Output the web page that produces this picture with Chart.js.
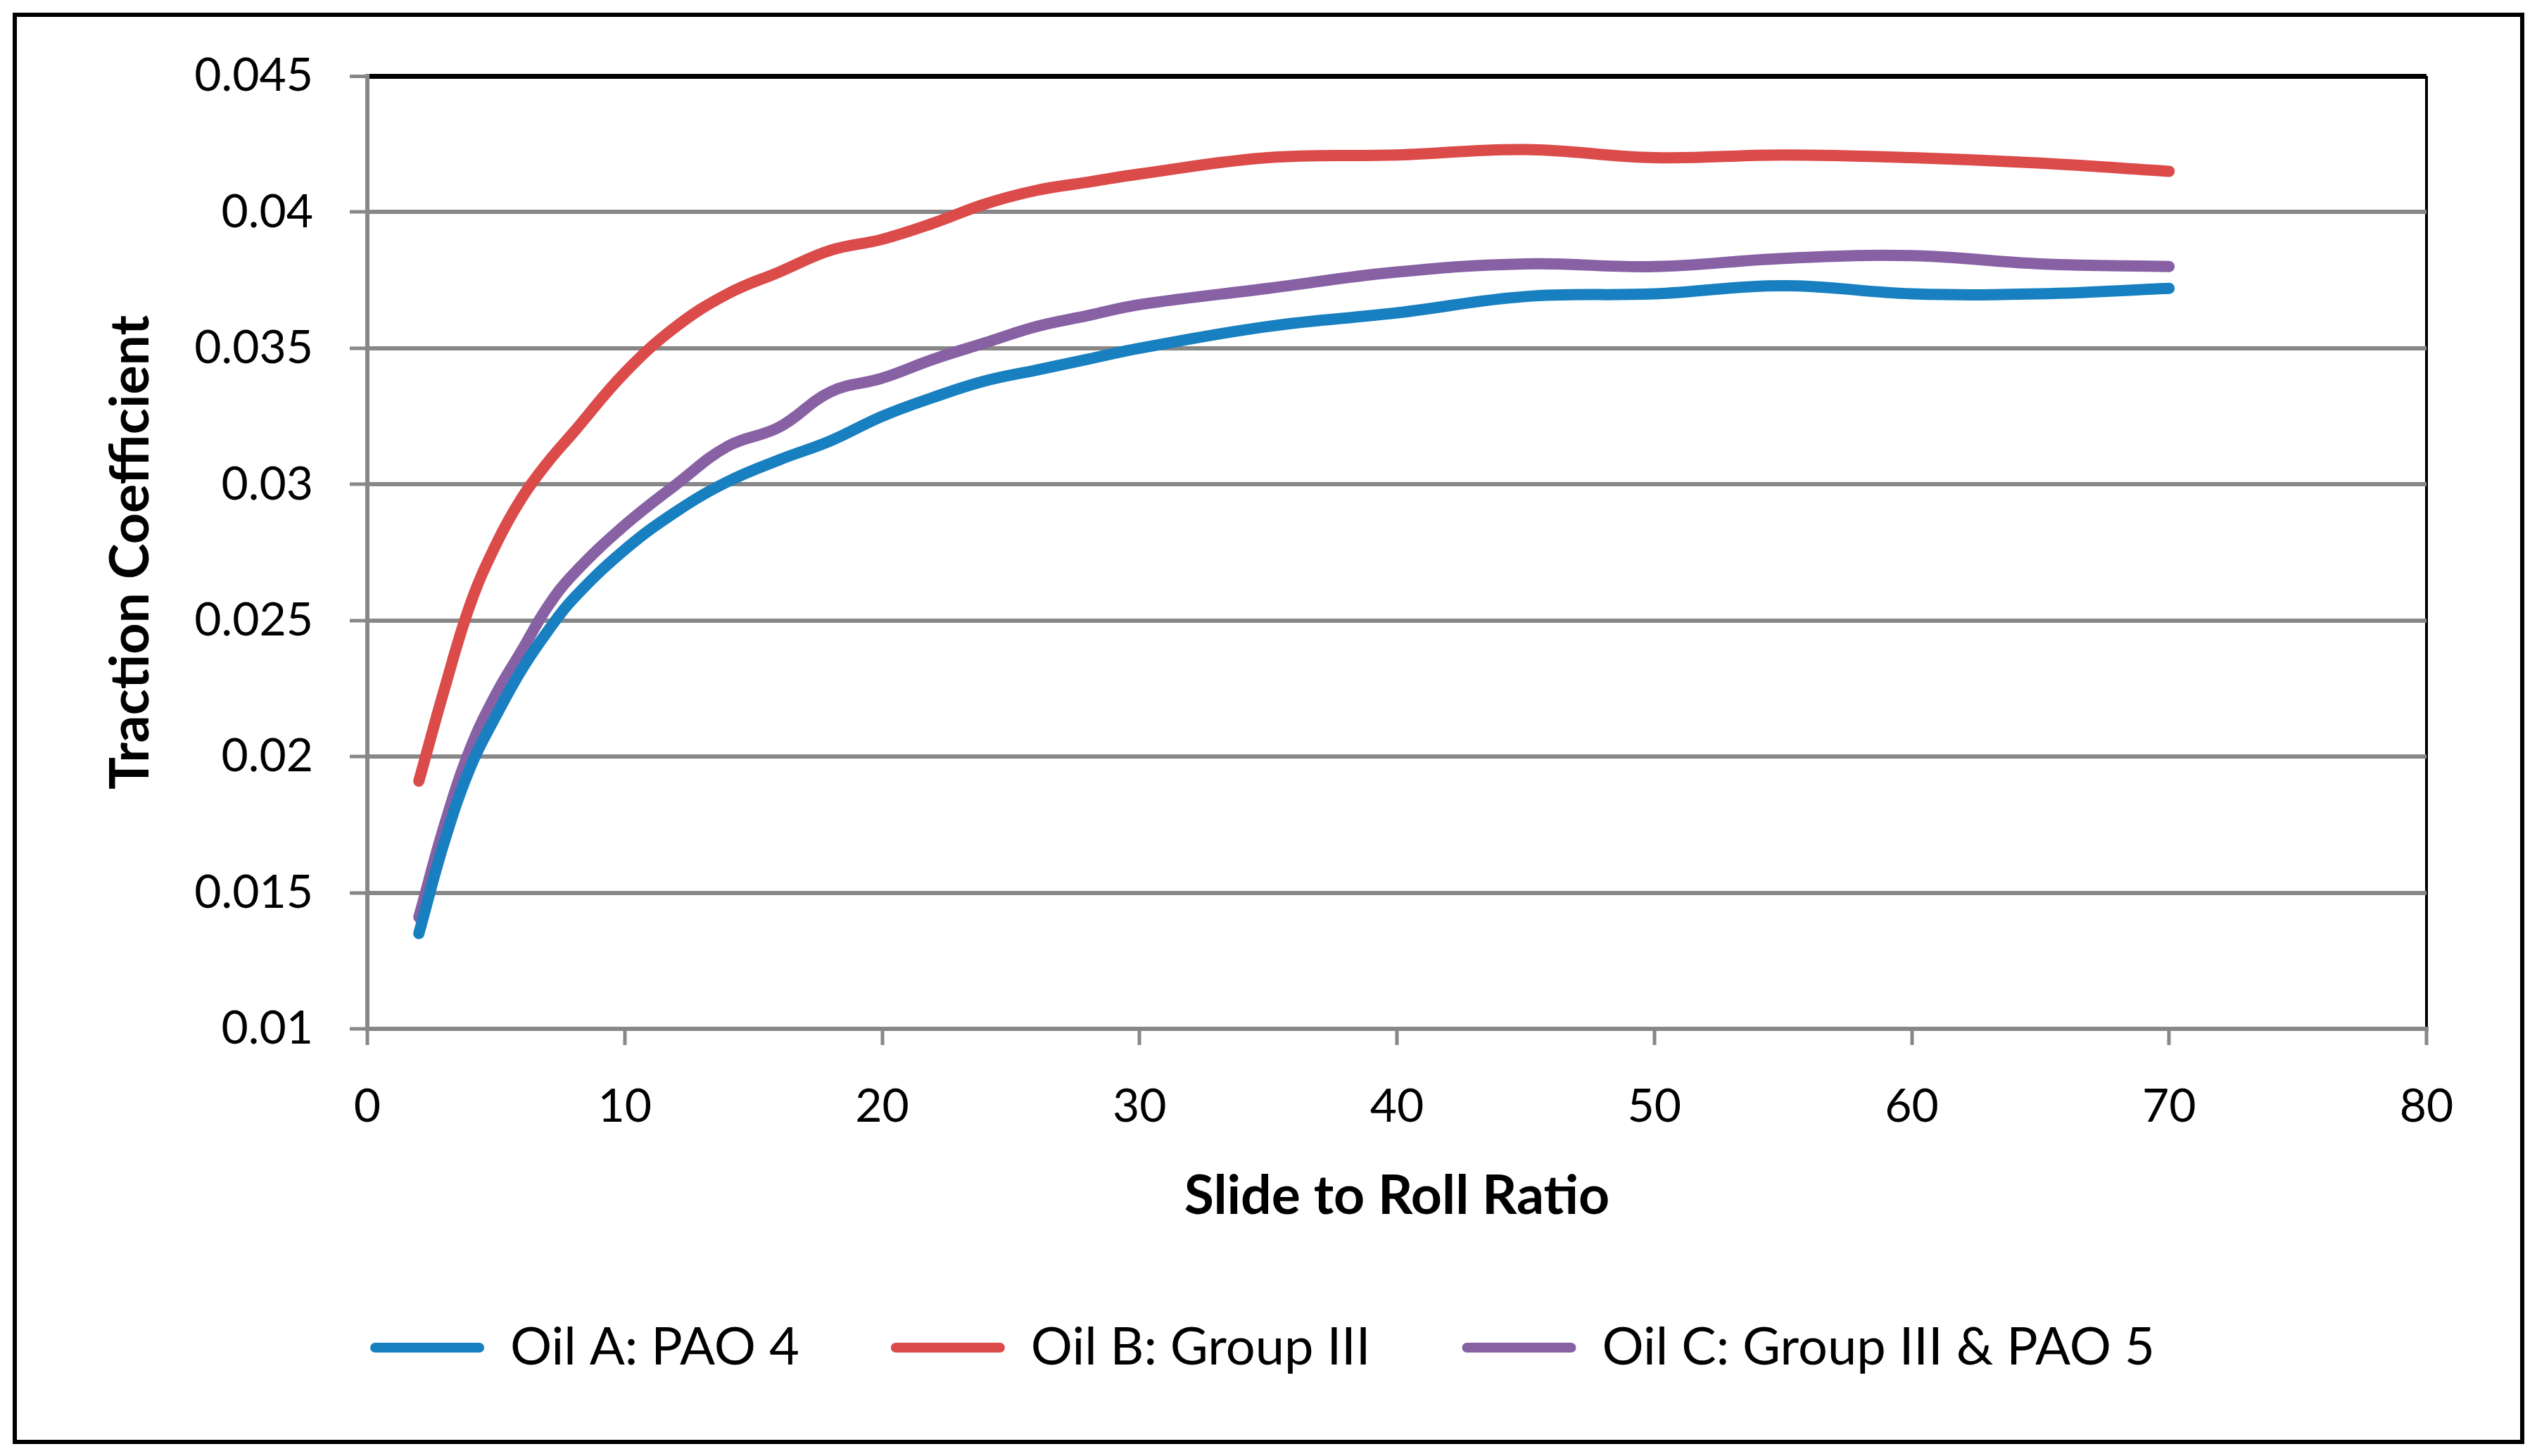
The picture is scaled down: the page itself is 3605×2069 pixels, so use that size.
<!DOCTYPE html>
<html>
<head>
<meta charset="utf-8">
<script src="https://cdn.jsdelivr.net/npm/chart.js@4/dist/chart.umd.min.js"></script>
<style>
  html, body { margin: 0; padding: 0; background: #fff; }
  canvas { display: block; }
</style>
</head>
<body>
<canvas id="chart" width="3605" height="2069"></canvas>
<script>
  // slide to roll ratio (x) and traction coefficient per oil
  const slideRoll = [2, 3, 4, 5, 6, 7, 8, 10, 12, 14, 16, 18, 20, 22, 24, 26, 28, 30, 35, 40, 45, 50, 55, 60, 65, 70];
  const oilA = [0.0135, 0.0169, 0.0196, 0.0215, 0.0232, 0.0246, 0.0258, 0.0276, 0.0290, 0.0301, 0.0309, 0.0316, 0.0325, 0.0332, 0.0338, 0.0342, 0.0346, 0.0350, 0.0358, 0.0363, 0.0369, 0.0370, 0.0373, 0.0370, 0.0370, 0.0372];
  const oilB = [0.0191, 0.0225, 0.0256, 0.0278, 0.0295, 0.0308, 0.0319, 0.0341, 0.0358, 0.0370, 0.0378, 0.0386, 0.0390, 0.0396, 0.0403, 0.0408, 0.0411, 0.0414, 0.0420, 0.0421, 0.0423, 0.0420, 0.0421, 0.0420, 0.0418, 0.0415];
  const oilC = [0.0141, 0.0175, 0.0203, 0.0223, 0.0239, 0.0255, 0.0267, 0.0285, 0.0300, 0.0314, 0.0321, 0.0334, 0.0339, 0.0346, 0.0352, 0.0358, 0.0362, 0.0366, 0.0372, 0.0378, 0.0381, 0.0380, 0.0383, 0.0384, 0.0381, 0.0380];
  const seriesNames = ['Oil A: PAO 4', 'Oil B: Group III', 'Oil C: Group III & PAO 5'];
  const seriesColors = ['#1880C0', '#DB4B4A', '#8761A4'];

  const FONT = 'Lato, "Open Sans", sans-serif';
  const GRID = '#878787';

  const toPoints = arr => arr.map((v, i) => ({ x: slideRoll[i], y: v }));

  const outerBorder = {
    id: 'outerBorder',
    afterDraw(chart) {
      const ctx = chart.ctx;
      ctx.save();
      ctx.strokeStyle = '#000';
      ctx.lineWidth = 6;
      ctx.strokeRect(21, 21, 3563, 2028);
      ctx.restore();
    }
  };

  new Chart(document.getElementById('chart'), {
    type: 'line',
    data: {
      datasets: [oilA, oilB, oilC].map((d, i) => ({
        label: seriesNames[i],
        data: toPoints(d),
        borderColor: seriesColors[i],
        backgroundColor: seriesColors[i],
        borderWidth: 16,
        borderCapStyle: 'round',
        borderJoinStyle: 'round',
        pointRadius: 0,
        tension: 0.4,
        fill: false
      }))
    },
    options: {
      responsive: false,
      animation: false,
      devicePixelRatio: 1,
      layout: { padding: { left: 140, right: 157, top: 108, bottom: 107 } },
      plugins: {
        tooltip: { enabled: false },
        legend: {
          position: 'bottom',
          labels: {
            font: { family: FONT, size: 74 },
            color: '#000',
            boxWidth: 162,
            boxHeight: 14,
            padding: 130,
            useBorderRadius: true,
            borderRadius: 7,
            generateLabels(chart) {
              return Chart.defaults.plugins.legend.labels.generateLabels(chart).map(l => ({ ...l, lineWidth: 0 }));
            }
          }
        }
      },
      scales: {
        x: {
          type: 'linear',
          min: 0,
          max: 80,
          ticks: { stepSize: 10, padding: 48, color: '#000', font: { family: FONT, size: 66 } },
          grid: {
            drawOnChartArea: true,
            color: c => (c.tick && c.tick.value === 80 ? '#000' : 'rgba(0,0,0,0)'),
            lineWidth: c => (c.tick && c.tick.value === 80 ? 4 : 6),
            tickColor: GRID,
            tickWidth: 5,
            tickLength: 23
          },
          border: { color: GRID, width: 6 },
          title: {
            display: true,
            text: 'Slide to Roll Ratio',
            color: '#000',
            font: { family: FONT, size: 77, weight: 'bold' },
            padding: { top: 0, bottom: 2 }
          },
          afterFit: s => { s.height = 286; }
        },
        y: {
          min: 0.01,
          max: 0.045,
          ticks: {
            stepSize: 0.005,
            padding: 52,
            color: '#000',
            font: { family: FONT, size: 66 },
            callback: v => String(+v.toFixed(3))
          },
          grid: {
            color: c => (c.tick && Math.abs(c.tick.value - 0.045) < 1e-9 ? '#000' : GRID),
            lineWidth: c => (c.tick && Math.abs(c.tick.value - 0.045) < 1e-9 ? 7 : 6),
            tickColor: GRID,
            tickWidth: 5,
            tickLength: 25
          },
          border: { color: GRID, width: 6 },
          title: {
            display: true,
            text: 'Traction Coefficient',
            color: '#000',
            font: { family: FONT, size: 77, weight: 'bold' },
            padding: { top: 0, bottom: 0 }
          },
          afterFit: s => { s.width = 522 - 140; s.paddingTop = 0; s.paddingBottom = 0; }
        }
      }
    },
    plugins: [outerBorder]
  });
</script>
</body>
</html>
